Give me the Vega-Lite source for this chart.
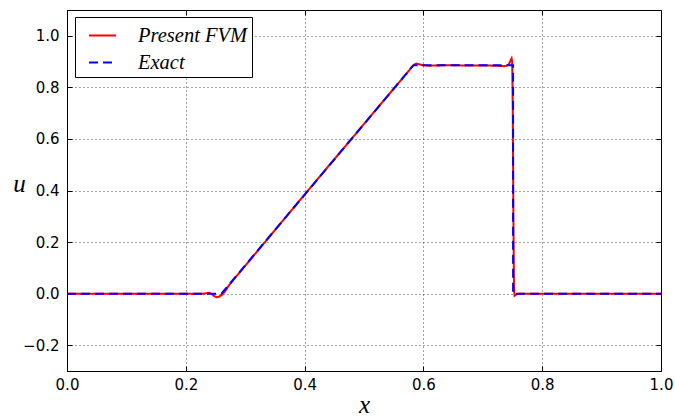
{
  "$schema": "https://vega.github.io/schema/vega-lite/v6.json",
  "autosize": {"type": "none"},
  "width": 594,
  "height": 361,
  "padding": {"left": 67, "top": 10, "right": 14, "bottom": 48},
  "background": "white",
  "data": {
    "values": [
      {"s": "Present FVM", "i": 1, "x": 0.0, "u": 0.0},
      {"s": "Present FVM", "i": 2, "x": 0.2, "u": 0.0},
      {"s": "Present FVM", "i": 3, "x": 0.23, "u": 0.0},
      {"s": "Present FVM", "i": 4, "x": 0.236, "u": 0.002},
      {"s": "Present FVM", "i": 5, "x": 0.24, "u": 0.003},
      {"s": "Present FVM", "i": 6, "x": 0.244, "u": -0.002},
      {"s": "Present FVM", "i": 7, "x": 0.248, "u": -0.01},
      {"s": "Present FVM", "i": 8, "x": 0.252, "u": -0.014},
      {"s": "Present FVM", "i": 9, "x": 0.256, "u": -0.012},
      {"s": "Present FVM", "i": 10, "x": 0.26, "u": -0.006},
      {"s": "Present FVM", "i": 11, "x": 0.264, "u": 0.003},
      {"s": "Present FVM", "i": 12, "x": 0.268, "u": 0.015},
      {"s": "Present FVM", "i": 13, "x": 0.272, "u": 0.03},
      {"s": "Present FVM", "i": 14, "x": 0.28, "u": 0.053},
      {"s": "Present FVM", "i": 15, "x": 0.3, "u": 0.108},
      {"s": "Present FVM", "i": 16, "x": 0.4, "u": 0.384},
      {"s": "Present FVM", "i": 17, "x": 0.5, "u": 0.658},
      {"s": "Present FVM", "i": 18, "x": 0.56, "u": 0.822},
      {"s": "Present FVM", "i": 19, "x": 0.57, "u": 0.849},
      {"s": "Present FVM", "i": 20, "x": 0.576, "u": 0.866},
      {"s": "Present FVM", "i": 21, "x": 0.58, "u": 0.878},
      {"s": "Present FVM", "i": 22, "x": 0.584, "u": 0.887},
      {"s": "Present FVM", "i": 23, "x": 0.588, "u": 0.892},
      {"s": "Present FVM", "i": 24, "x": 0.592, "u": 0.89},
      {"s": "Present FVM", "i": 25, "x": 0.598, "u": 0.886},
      {"s": "Present FVM", "i": 26, "x": 0.61, "u": 0.884},
      {"s": "Present FVM", "i": 27, "x": 0.64, "u": 0.886},
      {"s": "Present FVM", "i": 28, "x": 0.67, "u": 0.885},
      {"s": "Present FVM", "i": 29, "x": 0.7, "u": 0.885},
      {"s": "Present FVM", "i": 30, "x": 0.72, "u": 0.884},
      {"s": "Present FVM", "i": 31, "x": 0.73, "u": 0.883},
      {"s": "Present FVM", "i": 32, "x": 0.736, "u": 0.882},
      {"s": "Present FVM", "i": 33, "x": 0.74, "u": 0.884},
      {"s": "Present FVM", "i": 34, "x": 0.744, "u": 0.89},
      {"s": "Present FVM", "i": 35, "x": 0.747, "u": 0.905},
      {"s": "Present FVM", "i": 36, "x": 0.7485, "u": 0.912},
      {"s": "Present FVM", "i": 37, "x": 0.7495, "u": 0.9},
      {"s": "Present FVM", "i": 38, "x": 0.7505, "u": 0.7},
      {"s": "Present FVM", "i": 39, "x": 0.7515, "u": 0.3},
      {"s": "Present FVM", "i": 40, "x": 0.7525, "u": 0.03},
      {"s": "Present FVM", "i": 41, "x": 0.7535, "u": -0.008},
      {"s": "Present FVM", "i": 42, "x": 0.756, "u": -0.004},
      {"s": "Present FVM", "i": 43, "x": 0.76, "u": 0.0},
      {"s": "Present FVM", "i": 44, "x": 1.0, "u": 0.0},
      {"s": "Exact", "i": 1, "x": 0.0, "u": 0.0},
      {"s": "Exact", "i": 2, "x": 0.26, "u": 0.0},
      {"s": "Exact", "i": 3, "x": 0.5834, "u": 0.886},
      {"s": "Exact", "i": 4, "x": 0.751, "u": 0.886},
      {"s": "Exact", "i": 5, "x": 0.751, "u": 0.0},
      {"s": "Exact", "i": 6, "x": 1.0, "u": 0.0}
    ]
  },
  "encoding": {
    "x": {"field": "x", "type": "quantitative", "scale": {"domain": [0, 1], "nice": false, "zero": false}},
    "y": {"field": "u", "type": "quantitative", "scale": {"domain": [-0.3, 1.1], "nice": false, "zero": false}},
    "order": {"field": "i", "type": "quantitative"},
    "color": {
      "field": "s", "type": "nominal",
      "scale": {"domain": ["Present FVM", "Exact"], "range": ["#ff0000", "#0000ff"]},
      "legend": {
        "title": null, "orient": "none", "legendX": 8, "legendY": 7,
        "symbolType": "stroke", "symbolSize": 729, "symbolStrokeWidth": 2,
        "labelFont": "Liberation Serif", "labelFontStyle": "italic", "labelFontSize": 20.5,
        "labelColor": "black", "labelOffset": 21, "rowPadding": 2,
        "padding": 4, "symbolOffset": 9,
        "strokeColor": "black", "fillColor": "white"
      }
    },
    "strokeDash": {
      "field": "s", "type": "nominal",
      "scale": {"domain": ["Present FVM", "Exact"], "range": [[1, 0], [9, 5]]},
      "legend": {
        "title": null, "orient": "none", "legendX": 8, "legendY": 7,
        "symbolType": "stroke", "symbolSize": 729, "symbolStrokeWidth": 2,
        "labelFont": "Liberation Serif", "labelFontStyle": "italic", "labelFontSize": 20.5,
        "labelColor": "black", "labelOffset": 21, "rowPadding": 2,
        "padding": 4, "symbolOffset": 9,
        "strokeColor": "black", "fillColor": "white"
      }
    }
  },
  "layer": [
    {
      "transform": [{"filter": "datum.s === 'Present FVM'"}],
      "mark": {"type": "line", "strokeWidth": 2, "clip": true},
      "encoding": {
        "x": {
          "field": "x", "type": "quantitative",
          "axis": {
            "orient": "bottom", "title": "x", "values": [0, 0.2, 0.4, 0.6, 0.8, 1.0], "format": ".1f",
            "grid": true, "titleY": 41, "titleBaseline": "alphabetic"
          }
        },
        "y": {
          "field": "u", "type": "quantitative",
          "axis": {
            "orient": "left", "title": "u", "values": [-0.2, 0, 0.2, 0.4, 0.6, 0.8, 1.0], "format": ".1f",
            "grid": true, "titleAngle": 0, "titleX": -48, "titleY": 173,
            "titleAlign": "center", "titleBaseline": "middle"
          }
        }
      }
    },
    {
      "transform": [{"filter": "datum.s === 'Exact'"}],
      "mark": {"type": "line", "strokeWidth": 2, "clip": true},
      "encoding": {
        "x": {
          "field": "x", "type": "quantitative",
          "axis": {"orient": "top", "title": null, "labels": false, "grid": false, "values": [0, 0.2, 0.4, 0.6, 0.8, 1.0]}
        },
        "y": {
          "field": "u", "type": "quantitative",
          "axis": {"orient": "right", "title": null, "labels": false, "grid": false, "values": [-0.2, 0, 0.2, 0.4, 0.6, 0.8, 1.0]}
        }
      }
    }
  ],
  "resolve": {"axis": {"x": "independent", "y": "independent"}},
  "config": {
    "view": {"stroke": "black", "strokeWidth": 1},
    "axis": {
      "domainColor": "black", "domainWidth": 1,
      "tickColor": "black", "tickSize": -5, "tickWidth": 1,
      "labelFont": "DejaVu Sans", "labelFontSize": 15, "labelColor": "black", "labelFlush": false,
      "gridColor": "black", "gridDash": [1, 3], "gridWidth": 0.8, "gridOpacity": 0.9,
      "titleFont": "Liberation Serif", "titleFontStyle": "italic", "titleFontWeight": "normal",
      "titleFontSize": 25, "titleColor": "black"
    },
    "axisX": {"labelPadding": 11},
    "axisY": {"labelPadding": 13}
  }
}
